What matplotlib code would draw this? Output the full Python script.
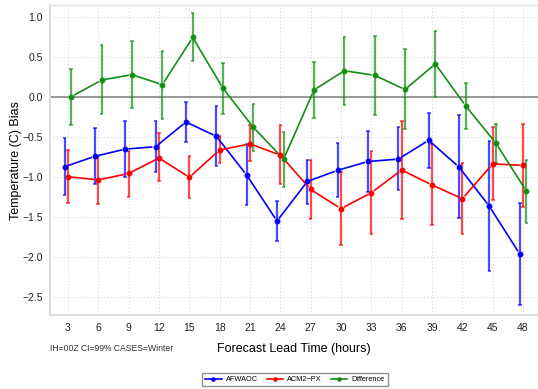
import numpy as np
import matplotlib
matplotlib.use("Agg")
import matplotlib.pyplot as plt
from matplotlib.lines import Line2D

plt.rcParams['font.family'] = ['Liberation Sans', 'DejaVu Sans']
plt.rcParams['axes.unicode_minus'] = True

# ---- data: bias and 99% CI bounds per lead time ---------------------------
lead = [3, 6, 9, 12, 15, 18, 21, 24, 27, 30, 33, 36, 39, 42, 45, 48]

afwaoc    = [-0.865, -0.735, -0.645, -0.615, -0.306, -0.485, -0.97, -1.544,
             -1.05, -0.91, -0.80, -0.77, -0.535, -0.87, -1.36, -1.956]
afwaoc_hi = [-0.51, -0.385, -0.29, -0.29, -0.056, -0.11, -0.58, -1.29,
             -0.777, -0.565, -0.42, -0.37, -0.19, -0.215, -0.55, -1.315]
afwaoc_lo = [-1.22, -1.085, -1.0, -0.935, -0.556, -0.856, -1.34, -1.80,
             -1.335, -1.25, -1.185, -1.16, -0.885, -1.51, -2.17, -2.60]

acm2    = [-0.99, -1.03, -0.95, -0.756, -0.998, -0.656, -0.58, -0.72,
           -1.15, -1.39, -1.19, -0.906, -1.094, -1.265, -0.83, -0.848]
acm2_hi = [-0.66, -0.73, -0.67, -0.45, -0.73, -0.48, -0.35, -0.35,
           -0.78, -0.93, -0.67, -0.29, -0.585, -0.82, -0.375, -0.33]
acm2_lo = [-1.32, -1.335, -1.24, -1.05, -1.26, -0.82, -0.80, -1.085,
           -1.52, -1.85, -1.71, -1.515, -1.594, -1.71, -1.28, -1.365]

diff    = [0.01, 0.219, 0.285, 0.16, 0.75, 0.115, -0.373, -0.77,
           0.094, 0.335, 0.277, 0.10, 0.42, -0.106, -0.573, -1.17]
diff_hi = [0.36, 0.65, 0.70, 0.585, 1.05, 0.435, -0.085, -0.43,
           0.44, 0.76, 0.77, 0.60, 0.835, 0.185, -0.33, -0.785]
diff_lo = [-0.34, -0.206, -0.127, -0.27, 0.45, -0.206, -0.665, -1.12,
           -0.256, -0.09, -0.215, -0.40, 0.0, -0.40, -0.82, -1.57]

yticks = [1.0, 0.5, 0.0, -0.5, -1.0, -1.5, -2.0, -2.5]

series = [
    ("AFWAOC", afwaoc, afwaoc_lo, afwaoc_hi, "#0000ff", -0.33),
    ("ACM2\u2212PX", acm2, acm2_lo, acm2_hi, "#ff0000", 0.0),
    ("Difference", diff, diff_lo, diff_hi, "#138f13", 0.33),
]

# ---- figure ----------------------------------------------------------------
fig = plt.figure(figsize=(5.38, 3.89), dpi=100)
ax = fig.add_axes([0.0929, 0.1902, 0.9071, 0.7962])
ax.set_xlim(1.22, 49.48)
ax.set_ylim(-2.719, 1.1525)

ax.set_xticks(lead)
ax.set_yticks(yticks)
ax.set_yticklabels([f"{v:.1f}".replace("-", "\u2212") for v in yticks])
ax.tick_params(length=0, labelsize=7.5, colors="#222222")
ax.tick_params(axis="x", pad=5.5)
ax.tick_params(axis="y", pad=5)
ax.grid(True, ls=(0, (1, 2)), color="#d8d8d8", lw=0.8)
ax.set_axisbelow(True)
for s in ("left", "bottom"):
    ax.spines[s].set_color("#dcdcdc")
    ax.spines[s].set_linewidth(1.5)
ax.spines["top"].set_color("#e4e4e4")
ax.spines["top"].set_linewidth(1.0)
ax.spines["right"].set_visible(False)

ax.axhline(0, color="#888888", lw=1.2, zorder=1)

fig.canvas.draw()
to_disp = ax.transData.transform
to_data = ax.transData.inverted().transform
gap = 4.0  # pixels left open around each point

handles = []
for name, y, lo, hi, col, dx in series:
    x = np.array(lead, dtype=float) + dx
    y = np.array(y)
    ax.vlines(x, lo, hi, color=col, alpha=0.7, lw=1.6, zorder=3)
    ax.hlines(lo, x - 0.18, x + 0.18, color=col, alpha=0.7, lw=1.2, zorder=3)
    ax.hlines(hi, x - 0.18, x + 0.18, color=col, alpha=0.7, lw=1.2, zorder=3)
    pts = to_disp(np.column_stack([x, y]))
    for a, b in zip(pts[:-1], pts[1:]):
        v = b - a
        n = np.hypot(*v)
        if n <= 2 * gap:
            continue
        u = v / n
        seg = to_data(np.array([a + u * gap, b - u * gap]))
        ax.plot(seg[:, 0], seg[:, 1], color=col, lw=1.2, zorder=4)
    ax.plot(x, y, "o", color=col, ms=3.2, zorder=5)
    handles.append(Line2D([], [], color=col, lw=1.2, marker="o", ms=2.3,
                          markevery=[1], label=name))

ax.set_ylabel("Temperature (C) Bias", fontsize=9)
ax.yaxis.set_label_coords(-0.0574, 0.5)
ax.set_xlabel("Forecast Lead Time (hours)", fontsize=9)
ax.xaxis.set_label_coords(0.5, -0.09)
fig.text(50 / 538, 1 - 348.5 / 389, "IH=00Z CI=99% CASES=Winter",
         fontsize=6.2, color="#333333", va="center")

leg = fig.legend(handles=handles, loc="center", ncol=3,
                 bbox_to_anchor=(295 / 538, 1 - 379.5 / 389),
                 fontsize=5.3, frameon=True, fancybox=False,
                 edgecolor="#777777", handlelength=2.2, columnspacing=1.2,
                 borderpad=0.45, handletextpad=0.6)
leg.get_frame().set_linewidth(1.0)

fig.savefig("out.png", dpi=100)
